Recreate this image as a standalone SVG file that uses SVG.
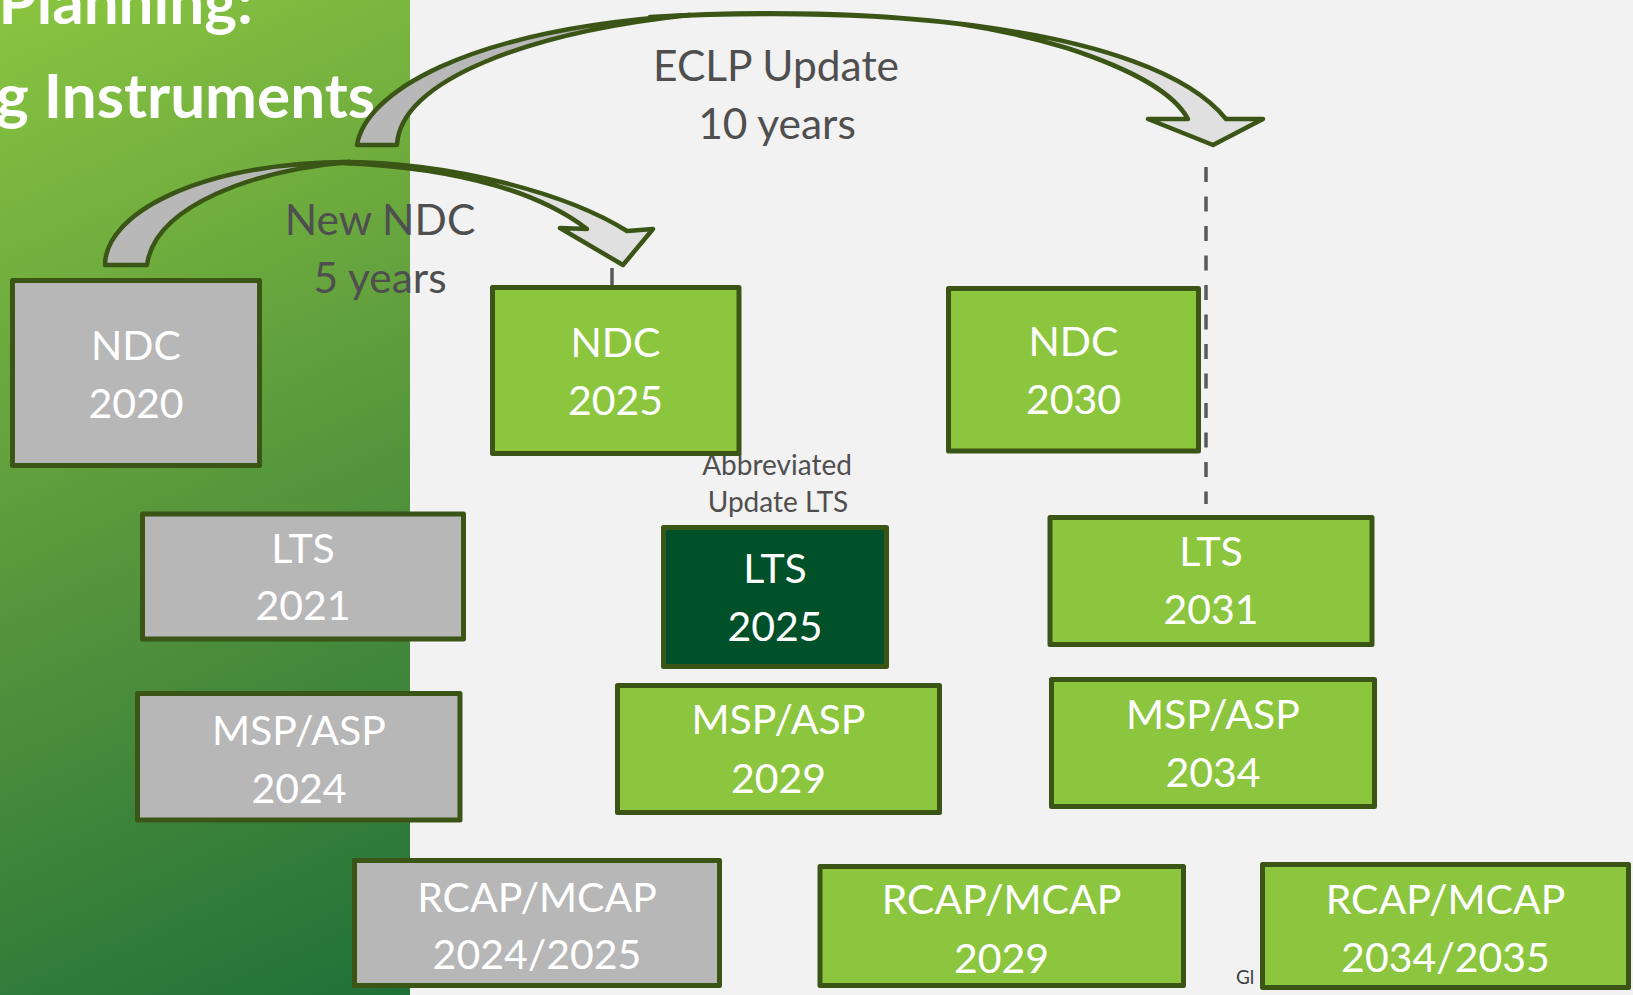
<svg xmlns="http://www.w3.org/2000/svg" width="1633" height="995" viewBox="0 0 1633 995">
  <defs>
    <linearGradient id="panelGrad" gradientUnits="userSpaceOnUse" x1="0" y1="0" x2="470" y2="1050">
      <stop offset="0" stop-color="#8AC540"/>
      <stop offset="0.55" stop-color="#4F903C"/>
      <stop offset="1" stop-color="#176B38"/>
    </linearGradient>
    <style>
      .box { stroke: #3B5517; stroke-width: 5; stroke-linejoin: round; }
      .grey { fill: #B7B7B7; }
      .green { fill: #8CC63F; }
      .dark { fill: #00502A; }
      .bt { font-family: Lato, "Liberation Sans", sans-serif; font-size: 41px; fill: #FFFFFF; text-anchor: middle; }
      .lbl { font-family: Lato, "Liberation Sans", sans-serif; font-size: 42.5px; fill: #4F4F4F; text-anchor: middle; }
      .small { font-family: Lato, "Liberation Sans", sans-serif; font-size: 28px; fill: #4F4F4F; text-anchor: middle; }
      .title { font-family: Lato, "Liberation Sans", sans-serif; font-size: 62px; font-weight: bold; fill: #FFFFFF; text-anchor: end; }
      .arrow { stroke: #3A5515; stroke-width: 4.5; stroke-linejoin: round; }
      .under { fill: #B8B8B8; }
      .over { fill: #E0E0E0; }
      .guide { stroke: #595959; stroke-width: 3.5; fill: none; }
    </style>
  </defs>

  <rect x="0" y="0" width="1633" height="995" fill="#F2F2F2"/>
  <rect x="0" y="0" width="410" height="995" fill="url(#panelGrad)"/>

  <g id="title">
    <text class="title" x="253" y="24">Planning:</text>
    <text class="title" x="375" y="118">g Instruments</text>
  </g>

  <text x="1236" y="984" font-family="Lato, 'Liberation Sans', sans-serif" font-size="19" fill="#404040">Gl</text>

  <g id="connectors">
    <line class="guide" x1="1206" y1="167" x2="1206" y2="504" stroke-dasharray="15 14.5"/>
    <line class="guide" x1="612" y1="268" x2="612" y2="285"/>
    <g id="arrow-new-ndc">
      <path class="arrow under" d="M105,265 C105,215 195,163 350,162 C255,170 155,205 147,265 Z"/>
      <path class="arrow over" d="M340,162 C455,162 570,195 627,231 L653,229 L623,265 L560,228 L587,229 C545,197 470,168 340,163 Z"/>
    </g>
    <g id="arrow-eclp">
      <path class="arrow under" d="M357,145 C365,95 460,30 690,15 C530,32 400,80 397,145 Z"/>
      <path class="arrow over" d="M650,17 C860,3 1150,25 1226,119 L1263,119 L1213,145 L1148,119 L1188,119 C1175,95 1140,72 1067,48 C1030,37 1000,30 960,24 C880,14 780,11 650,17 Z"/>
    </g>
    <text class="lbl" x="380" y="235">New NDC</text>
    <text class="lbl" x="380" y="293">5 years</text>
    <text class="lbl" x="776" y="81">ECLP Update</text>
    <text class="lbl" x="777" y="139">10 years</text>
    <text class="small" x="777" y="475">Abbreviated</text>
    <text class="small" x="778" y="512">Update LTS</text>
  </g>

  <g id="ndc-2020">
    <rect class="box grey" x="12.5" y="280.5" width="247" height="185"/>
    <text class="bt" x="136" y="360">NDC</text>
    <text class="bt" x="136" y="417.5">2020</text>
  </g>
  <g id="ndc-2025">
    <rect class="box green" x="492.5" y="287.5" width="246.5" height="166"/>
    <text class="bt" x="615.5" y="356.5">NDC</text>
    <text class="bt" x="615.5" y="415">2025</text>
  </g>
  <g id="ndc-2030">
    <rect class="box green" x="948.5" y="288.5" width="250" height="162.5"/>
    <text class="bt" x="1073.5" y="356">NDC</text>
    <text class="bt" x="1073.5" y="414">2030</text>
  </g>
  <g id="lts-2021">
    <rect class="box grey" x="142.5" y="514" width="321" height="125"/>
    <text class="bt" x="303" y="562.5">LTS</text>
    <text class="bt" x="303" y="620">2021</text>
  </g>
  <g id="lts-2025">
    <rect class="box dark" x="663.5" y="527.5" width="223" height="139"/>
    <text class="bt" x="775" y="583">LTS</text>
    <text class="bt" x="775" y="640.5">2025</text>
  </g>
  <g id="lts-2031">
    <rect class="box green" x="1050" y="517.5" width="322" height="127"/>
    <text class="bt" x="1211" y="566">LTS</text>
    <text class="bt" x="1211" y="624">2031</text>
  </g>
  <g id="msp-2024">
    <rect class="box grey" x="137.5" y="693.5" width="322.5" height="126.5"/>
    <text class="bt" x="299" y="745">MSP/ASP</text>
    <text class="bt" x="299" y="802.5">2024</text>
  </g>
  <g id="msp-2029">
    <rect class="box green" x="617.5" y="685.5" width="322" height="127"/>
    <text class="bt" x="778.5" y="734">MSP/ASP</text>
    <text class="bt" x="778.5" y="793">2029</text>
  </g>
  <g id="msp-2034">
    <rect class="box green" x="1051.5" y="679.5" width="323" height="127"/>
    <text class="bt" x="1213" y="729">MSP/ASP</text>
    <text class="bt" x="1213" y="786.5">2034</text>
  </g>
  <g id="rcap-2024">
    <rect class="box grey" x="354.5" y="860.5" width="365" height="125"/>
    <text class="bt" x="537" y="911.5">RCAP/MCAP</text>
    <text class="bt" x="537" y="969">2024/2025</text>
  </g>
  <g id="rcap-2029">
    <rect class="box green" x="820" y="866.5" width="363.5" height="119"/>
    <text class="bt" x="1001.5" y="914">RCAP/MCAP</text>
    <text class="bt" x="1001.5" y="972.5">2029</text>
  </g>
  <g id="rcap-2034">
    <rect class="box green" x="1262.5" y="864.5" width="366" height="123"/>
    <text class="bt" x="1445.5" y="914">RCAP/MCAP</text>
    <text class="bt" x="1445.5" y="972">2034/2035</text>
  </g>
</svg>
